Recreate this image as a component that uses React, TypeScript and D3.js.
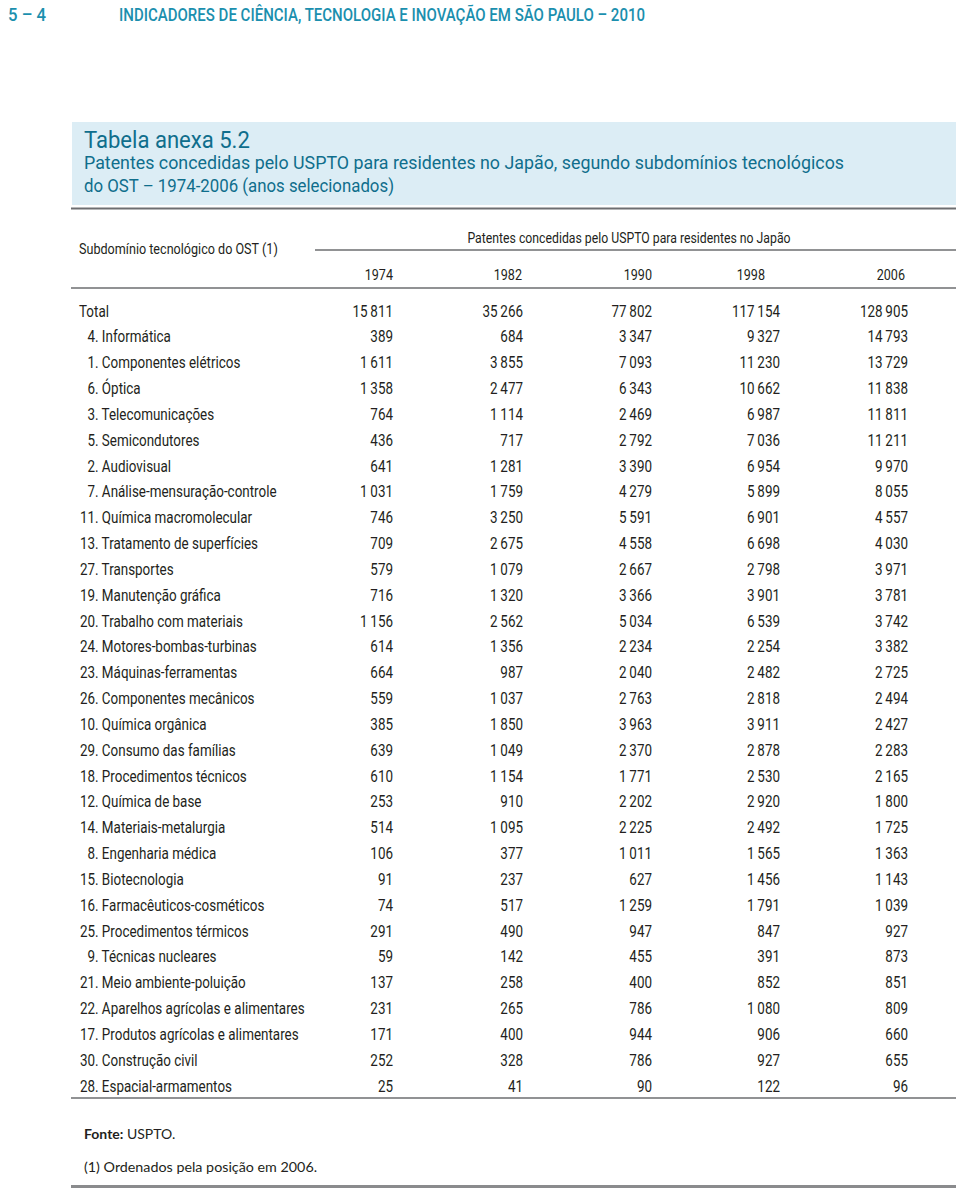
import React from "react";
import * as d3 from "d3";

const years = ["1974", "1982", "1990", "1998", "2006"];
const labels = [
  "Total",
  "4. Informática",
  "1. Componentes elétricos",
  "6. Óptica",
  "3. Telecomunicações",
  "5. Semicondutores",
  "2. Audiovisual",
  "7. Análise-mensuração-controle",
  "11. Química macromolecular",
  "13. Tratamento de superfícies",
  "27. Transportes",
  "19. Manutenção gráfica",
  "20. Trabalho com materiais",
  "24. Motores-bombas-turbinas",
  "23. Máquinas-ferramentas",
  "26. Componentes mecânicos",
  "10. Química orgânica",
  "29. Consumo das famílias",
  "18. Procedimentos técnicos",
  "12. Química de base",
  "14. Materiais-metalurgia",
  "8. Engenharia médica",
  "15. Biotecnologia",
  "16. Farmacêuticos-cosméticos",
  "25. Procedimentos térmicos",
  "9. Técnicas nucleares",
  "21. Meio ambiente-poluição",
  "22. Aparelhos agrícolas e alimentares",
  "17. Produtos agrícolas e alimentares",
  "30. Construção civil",
  "28. Espacial-armamentos",
];
const v1974 = [15811, 389, 1611, 1358, 764, 436, 641, 1031, 746, 709, 579, 716, 1156, 614, 664, 559, 385, 639, 610, 253, 514, 106, 91, 74, 291, 59, 137, 231, 171, 252, 25];
const v1982 = [35266, 684, 3855, 2477, 1114, 717, 1281, 1759, 3250, 2675, 1079, 1320, 2562, 1356, 987, 1037, 1850, 1049, 1154, 910, 1095, 377, 237, 517, 490, 142, 258, 265, 400, 328, 41];
const v1990 = [77802, 3347, 7093, 6343, 2469, 2792, 3390, 4279, 5591, 4558, 2667, 3366, 5034, 2234, 2040, 2763, 3963, 2370, 1771, 2202, 2225, 1011, 627, 1259, 947, 455, 400, 786, 944, 786, 90];
const v1998 = [117154, 9327, 11230, 10662, 6987, 7036, 6954, 5899, 6901, 6698, 2798, 3901, 6539, 2254, 2482, 2818, 3911, 2878, 2530, 2920, 2492, 1565, 1456, 1791, 847, 391, 852, 1080, 906, 927, 122];
const v2006 = [128905, 14793, 13729, 11838, 11811, 11211, 9970, 8055, 4557, 4030, 3971, 3781, 3742, 3382, 2725, 2494, 2427, 2283, 2165, 1800, 1725, 1363, 1143, 1039, 927, 873, 851, 809, 660, 655, 96];

const series = [v1974, v1982, v1990, v1998, v2006];

const W = 960;
const H = 1188;
const TEAL = "#1b8fae";
const TITLE = "#0f6e8c";
const FONT = "Roboto, 'Open Sans', sans-serif";
const SANS = "Lato, 'Open Sans', sans-serif";
const TXT = "#231f20";
const SX = 0.84;

const locale = d3.formatLocale({ decimal: ",", thousands: "\u2009", grouping: [3], currency: ["", ""] });
const fmt = locale.format(",d");

function CText(props: {
  x: number;
  y: number;
  anchor?: "start" | "middle" | "end";
  size?: number;
  weight?: number;
  fill?: string;
  children: React.ReactNode;
}) {
  const { x, y, anchor = "start", size = 16, weight = 400, fill = TXT, children } = props;
  return (
    <text
      transform={`translate(${x},${y}) scale(${SX},1)`}
      textAnchor={anchor}
      fontFamily={FONT}
      fontSize={size}
      fontWeight={weight}
      fill={fill}
    >
      {children}
    </text>
  );
}

export default function App() {
  const y = d3.scaleLinear().domain([0, labels.length - 1]).range([311, 1086]);
  const colEnd = d3.scaleOrdinal<string, number>().domain(years).range([393, 523, 652, 780, 908]);
  const headEnd = d3.scaleOrdinal<string, number>().domain(years).range([393, 522, 652, 765, 905]);

  return (
    <svg width={W} height={H} style={{ position: "absolute", left: 0, top: 0, background: "#fff" }}>
      <rect x={0} y={0} width={W} height={H} fill="#fff" />
      {/* page header */}
      <text x={8} y={21} fill={TEAL} fontFamily={FONT} fontSize={17.5} fontWeight={500} textLength={38} lengthAdjust="spacingAndGlyphs">5 – 4</text>
      <text x={119} y={21} fill={TEAL} fontFamily={FONT} fontSize={17.5} fontWeight={500} textLength={526} lengthAdjust="spacingAndGlyphs">
        INDICADORES DE CIÊNCIA, TECNOLOGIA E INOVAÇÃO EM SÃO PAULO – 2010
      </text>

      {/* title box */}
      <rect x={72} y={122} width={884} height={83} fill="#dcedf5" />
      <text transform="translate(84,148) scale(0.96,1)" fill={TITLE} fontFamily={FONT} fontSize={23}>Tabela anexa 5.2</text>
      <text transform="translate(84,169) scale(0.99,1)" fill={TITLE} fontFamily={FONT} fontSize={18}>
        Patentes concedidas pelo USPTO para residentes no Japão, segundo subdomínios tecnológicos
      </text>
      <text transform="translate(84,192) scale(0.935,1)" fill={TITLE} fontFamily={FONT} fontSize={18}>do OST – 1974-2006 (anos selecionados)</text>

      {/* rules */}
      <line x1={71} x2={956} y1={208.5} y2={208.5} stroke="#6d6e71" strokeWidth={2} />
      <line x1={315} x2={956} y1={250} y2={250} stroke="#6d6e71" strokeWidth={1.5} />
      <line x1={71} x2={956} y1={288} y2={288} stroke="#6d6e71" strokeWidth={1.5} />
      <line x1={71} x2={956} y1={1098} y2={1098} stroke="#6d6e71" strokeWidth={1.5} />
      <line x1={71} x2={956} y1={1186.5} y2={1186.5} stroke="#8a8b8d" strokeWidth={3} />

      {/* column headers */}
      <CText x={79} y={254} size={15}>Subdomínio tecnológico do OST (1)</CText>
      <CText x={629} y={243} anchor="middle" size={14.6}>Patentes concedidas pelo USPTO para residentes no Japão</CText>
      {years.map((yr) => (
        <CText key={yr} x={headEnd(yr)} y={280} size={15} anchor="end">{yr}</CText>
      ))}

      {/* rows */}
      {labels.map((lab, i) => {
        const cy = y(i) + 5.5;
        const m = lab.match(/^(\d+)\.\s(.*)$/);
        return (
          <g key={lab}>
            {m ? (
              <>
                <CText x={95} y={cy} anchor="end">{m[1]}</CText>
                <CText x={95} y={cy}>{". " + m[2]}</CText>
              </>
            ) : (
              <CText x={79} y={cy}>{lab}</CText>
            )}
            {series.map((s, j) => (
              <CText key={j} x={colEnd(years[j])} y={cy} anchor="end">
                {fmt(s[i])}
              </CText>
            ))}
          </g>
        );
      })}

      {/* footnotes */}
      <text x={84} y={1139} fill={TXT} fontFamily={SANS} fontSize={14}>
        <tspan fontWeight={700}>Fonte:</tspan> USPTO.
      </text>
      <text x={84} y={1172} fill={TXT} fontFamily={SANS} fontSize={14.3}>(1) Ordenados pela posição em 2006.</text>
    </svg>
  );
}
